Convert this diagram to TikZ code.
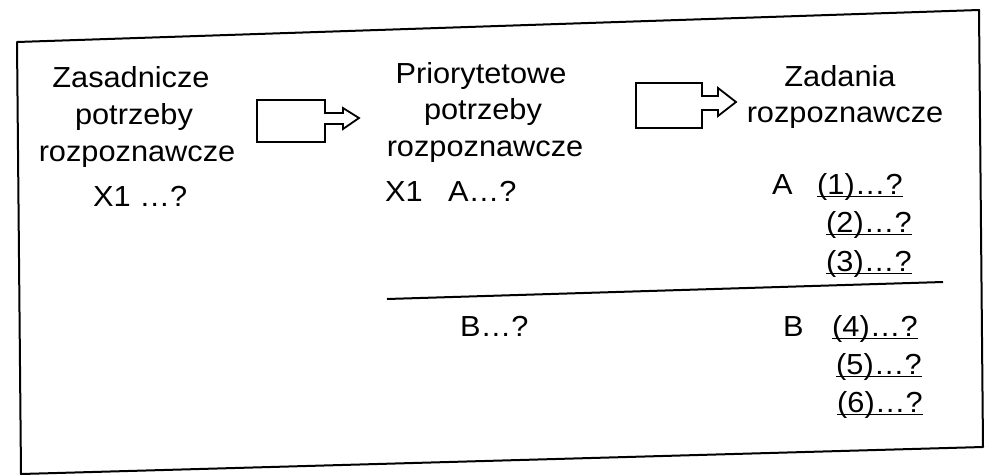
\documentclass[tikz,border=0pt]{standalone}
\usepackage{fontspec}
\setmainfont[FakeStretch=1.06]{Liberation Sans}
\tikzset{
  lbl/.style={inner sep=0pt, font=\fontsize{29}{35}\selectfont, anchor=base},
  lft/.style={lbl, anchor=base west},
  frameline/.style={line width=2pt, line join=round},
  blockarrow/.style={line width=1.8pt, line join=miter},
  uline/.style={line width=1.2pt}
}
\begin{document}
\begin{tikzpicture}[x=1pt,y=-1pt]
\useasboundingbox (0,0) rectangle (986,475);
% frame
\coordinate (f1) at (17,42);
\coordinate (f2) at (979,10);
\coordinate (f3) at (983,447);
\coordinate (f4) at (21,474);
\draw[frameline] (f1) -- (f2) -- (f3) -- (f4) -- cycle;
% column 1
\node[lbl] (z1) at (131,87) {Zasadnicze};
\node[lbl] (z2) at (134,124) {potrzeby};
\node[lbl] (z3) at (137,161) {rozpoznawcze};
\node[lft] (x1) at (93,206) {X1 …?};
% column 2
\node[lbl] (p1) at (481,83) {Priorytetowe};
\node[lbl] (p2) at (483,119) {potrzeby};
\node[lbl] (p3) at (485,156) {rozpoznawcze};
\node[lft] (px) at (385,201) {X1};
\node[lft] (pa) at (448,201) {A…?};
\node[lft] (pb) at (460,336) {B…?};
% column 3
\node[lbl] (t1) at (840,86) {Zadania};
\node[lbl] (t2) at (845,122) {rozpoznawcze};
\node[lft] (ta) at (772,194) {A};
\node[lft] (q1) at (817,194) {(1)…?};
\node[lft] (q2) at (826,232) {(2)…?};
\node[lft] (q3) at (826,271) {(3)…?};
\node[lft] (tb) at (783,336) {B};
\node[lft] (q4) at (832,336) {(4)…?};
\node[lft] (q5) at (836,374) {(5)…?};
\node[lft] (q6) at (837,412) {(6)…?};
\foreach \q in {q1,q2,q3,q4,q5,q6}
  \draw[uline] ([yshift=-2.5pt]\q.base west) -- ([yshift=-2.5pt]\q.base east);
% separator
\coordinate (s1) at (387,299);
\coordinate (s2) at (943,282);
\draw[frameline] (s1) -- (s2);
% block arrows
\draw[blockarrow] (325,113) -- (325,100) -- (257,100) -- (257,142) -- (325,142) -- (325,124)
  -- (343,124) -- (343,129) -- (359,118) -- (343,108) -- (343,113) -- cycle;
\draw[blockarrow] (702,96) -- (702,83) -- (636,83) -- (636,128) -- (702,128) -- (702,110)
  -- (718,110) -- (718,116) -- (736,102) -- (718,88) -- (718,96) -- cycle;
\end{tikzpicture}
\end{document}
